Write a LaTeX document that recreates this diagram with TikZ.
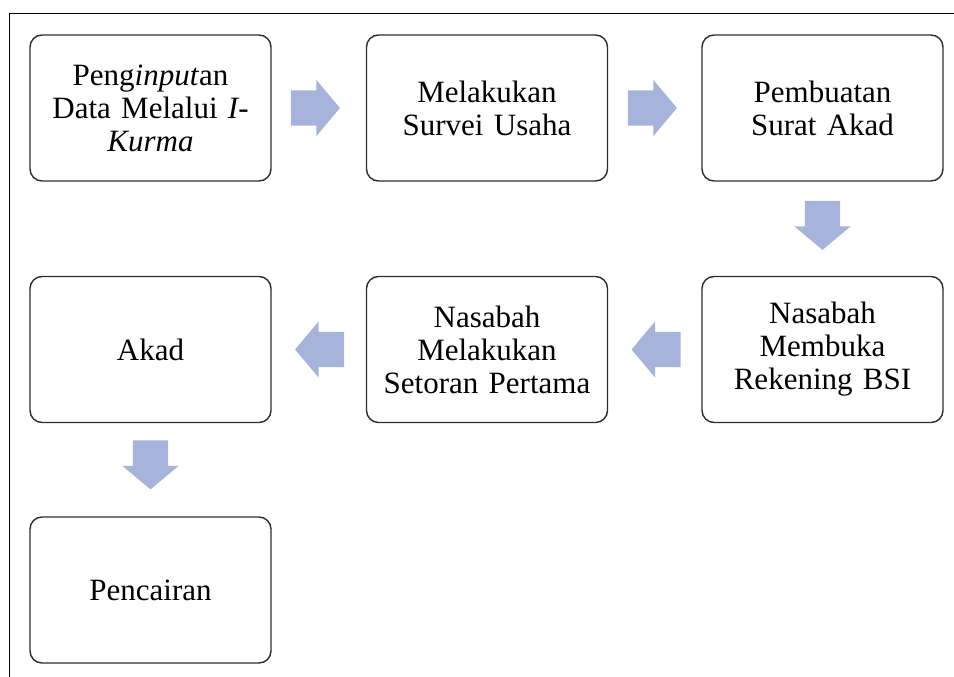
\documentclass[tikz,border=0pt]{standalone}
\usepackage{fontspec}
\setmainfont{Liberation Serif}
\usepackage{tikz}
\usepackage{xcolor}
\usetikzlibrary{shapes.arrows,calc}
\definecolor{lavender}{RGB}{166,180,220}
\definecolor{boxline}{RGB}{45,45,45}

\tikzset{
  stepbox/.style={draw=boxline, line width=1.4pt, rounded corners=12pt, fill=white,
    minimum width=241pt, minimum height=146pt, text width=232pt, align=center,
    font=\fontsize{31}{33}\selectfont},
  fatarrow/.style={single arrow, fill=lavender, draw=none, inner xsep=0pt, inner ysep=17.5pt,
    minimum width=56pt, minimum height=49pt, single arrow head extend=10.5pt,
    single arrow tip angle=100, anchor=tail}
}

\begin{document}
\begin{tikzpicture}[x=1pt,y=-1pt]
\useasboundingbox (0,0) rectangle (954,677);
% frame
\coordinate (fl) at (9,677);
\coordinate (fc) at (9,13);
\coordinate (fr) at (954,13);
\draw[line width=0.8pt] (fl) -- (fc) -- (fr);

% first row
\node[stepbox] (input) at (150.5,108) {Peng\textit{input}an\\Data Melalui \textit{I-}\\\textit{Kurma}};
\node[stepbox] (survei) at (487,108) {Melakukan\\Survei Usaha};
\node[stepbox] (surat) at (822.5,108) {Pembuatan\\Surat Akad};

% second row
\node[stepbox] (rekening) at (822.5,349.5) {Nasabah\\Membuka\\Rekening BSI};
\node[stepbox] (setoran) at (487,349.5) {Nasabah\\Melakukan\\Setoran Pertama};
\node[stepbox] (akad) at (150.5,349.5) {Akad};

% third row
\node[stepbox] (cair) at (150.5,590) {Pencairan};

% block arrows
\node[fatarrow] (a1) at ($(input.east)!0.5!(survei.west)+(-28,0)$) {};
\node[fatarrow] (a2) at ($(survei.east)!0.5!(surat.west)+(-27,0)$) {};
\node[fatarrow, rotate=270] (a3) at ($(surat.south)!0.5!(rekening.north)+(0,-28)$) {};
\node[fatarrow, rotate=180] (a4) at ($(rekening.west)!0.5!(setoran.east)+(26,0)$) {};
\node[fatarrow, rotate=180] (a5) at ($(setoran.west)!0.5!(akad.east)+(25.5,0)$) {};
\node[fatarrow, rotate=270] (a6) at ($(akad.south)!0.5!(cair.north)+(0,-29.5)$) {};
\end{tikzpicture}
\end{document}
